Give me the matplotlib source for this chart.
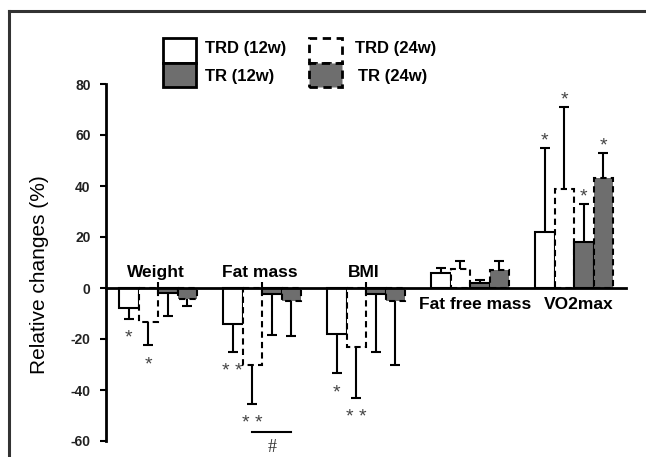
import matplotlib
matplotlib.use('Agg')
import matplotlib.pyplot as plt
from matplotlib.patches import Rectangle
from matplotlib.lines import Line2D
import numpy as np

plt.rcParams['font.family'] = ['Liberation Sans', 'DejaVu Sans']
plt.rcParams['axes.unicode_minus'] = False

# values (relative change, %)
categories = ['Weight', 'Fat mass', 'BMI', 'Fat free mass', 'VO2max']
series_names = ['TRD (12w)', 'TRD (24w)', 'TR (12w)', 'TR (24w)']
trd12 = [-8, -14, -18, 6, 22]
trd12_sd = [4, 11, 15.5, 2, 33]
trd24 = [-13.5, -30, -23, 7.5, 39]
trd24_sd = [9, 15.5, 20, 3, 32]
tr12 = [-2, -2.5, -2.5, 2, 18]
tr12_sd = [9, 16, 22.5, 1.2, 15]
tr24 = [-4.5, -5, -5, 7, 43]
tr24_sd = [2.5, 14, 25, 3.5, 10]

# significance marks: (category, series, text)
stars = [(0, 0, '*'), (0, 1, '*'), (1, 0, '* *'), (1, 1, '* *'),
         (2, 0, '*'), (2, 1, '* *'),
         (4, 0, '*'), (4, 1, '*'), (4, 2, '*'), (4, 3, '*')]
# '#' between TRD (24w) and TR (24w) for fat mass
hash_cat, hash_from, hash_to = 1, 1, 3

GRAY = '#6e6e6e'
DASH = (0, (3, 2))

W, H = 646, 457
fig = plt.figure(figsize=(W / 100, H / 100), dpi=100)
ax = fig.add_axes([106 / W, 16 / H, 520 / W, 357 / H])
ax.patch.set_alpha(0)

x = np.arange(len(categories))
bw = 0.1875
styles = [('white', '-'), ('white', DASH), (GRAY, '-'), (GRAY, DASH)]
data = [(trd12, trd12_sd), (trd24, trd24_sd), (tr12, tr12_sd), (tr24, tr24_sd)]

tips_all = []
for k, ((vals, sds), (fc, ls)) in enumerate(zip(data, styles)):
    pos = x + (k - 1.5) * bw
    vals = np.array(vals, dtype=float)
    sds = np.array(sds, dtype=float)
    ax.bar(pos, vals, bw, color=fc, edgecolor='black', linewidth=1.5,
           linestyle=ls, zorder=2, label=series_names[k])
    tips = vals + np.sign(vals) * sds
    tips_all.append(tips)
    ax.vlines(pos, vals, tips, color='black', lw=1.5, zorder=3)
    ax.plot(pos, tips, ls='none', marker='_', ms=7, mew=1.5, color='black', zorder=3)

for c, s, txt in stars:
    tip = tips_all[s][c]
    dy = 5 if tip > 0 else -14
    ax.annotate(txt, (c + (s - 1.5) * bw, tip), xytext=(0, dy),
                textcoords='offset points', ha='center', va='center',
                fontsize=14, color='#444444')

hx0 = hash_cat + (hash_from - 1.5) * bw
hx1 = hash_cat + (hash_to - 1.5) * bw
ax.plot([hx0, hx1], [-56.5, -56.5], color='black', lw=1.5, clip_on=False)
ax.text((hx0 + hx1) / 2, -62.5, '#', ha='center', va='center', fontsize=13,
        family='Liberation Serif', color='#333333')

# category labels next to the zero line
for i, cat in enumerate(categories):
    neg = np.mean([d[0][i] for d in data]) < 0
    ax.annotate(cat, (i, 0), xytext=(-1.5, 11.5) if neg else (3.5, -12),
                textcoords='offset points', ha='center', va='center',
                fontsize=12.5, fontweight='bold')

ax.set_xlim(-0.5, 4.5)
ax.set_ylim(-60, 80)
ax.set_xticks(x)
ax.set_xticklabels([])
ax.set_yticks(range(-60, 81, 20))
for lbl in ax.get_yticklabels():
    lbl.set_fontweight('bold')
ax.tick_params(axis='x', direction='in', length=4, width=1.5)
ax.tick_params(axis='y', direction='out', length=4, width=1.5, pad=7,
               labelsize=10, labelcolor='#222222')
for side in ['top', 'right']:
    ax.spines[side].set_visible(False)
ax.spines['bottom'].set_position(('data', 0))
ax.spines['bottom'].set_linewidth(2)
ax.spines['left'].set_linewidth(2)
ax.spines['left'].set_bounds(-60, 80)

fig.text(40 / W, 1 - 275 / H, 'Relative changes (%)', rotation=90,
         ha='center', va='center', fontsize=15)

# legend drawn as two stacked boxes
def fx(px):
    return px / W

def fy(py):
    return 1 - py / H

for bx, ls, tx in [(163, '-', 205), (309, DASH, 355)]:
    fig.add_artist(Rectangle((fx(bx), fy(63)), 33 / W, 25 / H, transform=fig.transFigure,
                             facecolor='white', edgecolor='black', lw=2, linestyle=ls))
    fig.add_artist(Rectangle((fx(bx), fy(87)), 33 / W, 24 / H, transform=fig.transFigure,
                             facecolor=GRAY, edgecolor='black', lw=2, linestyle=ls))
fig.text(fx(205), fy(49), series_names[0], ha='left', va='center', fontsize=12, fontweight='bold')
fig.text(fx(205), fy(77), series_names[2], ha='left', va='center', fontsize=12, fontweight='bold')
fig.text(fx(355), fy(49), series_names[1], ha='left', va='center', fontsize=12, fontweight='bold')
fig.text(fx(358), fy(77), series_names[3], ha='left', va='center', fontsize=12, fontweight='bold')

# outer frame (only left and top visible)
fig.add_artist(Line2D([fx(9), fx(9)], [0, fy(11)], transform=fig.transFigure,
                      color='#333333', lw=2.2))
fig.add_artist(Line2D([fx(9), 1], [fy(11), fy(11)], transform=fig.transFigure,
                      color='#333333', lw=2.2))

fig.savefig('out.png', dpi=100)
